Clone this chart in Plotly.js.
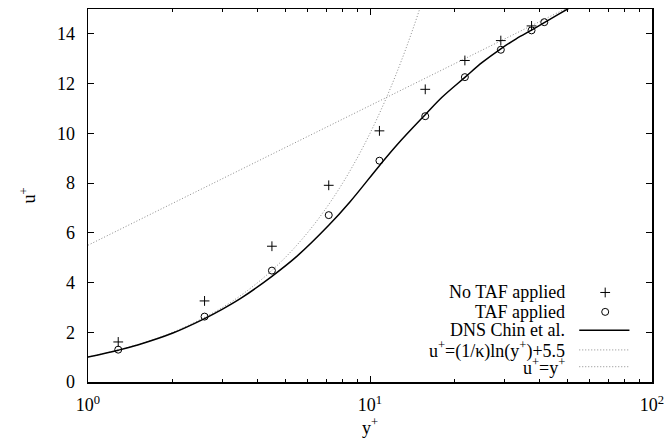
<!DOCTYPE html>
<html><head><meta charset="utf-8">
<script src="https://cdn.plot.ly/plotly-3.0.1.min.js"></script>
<style>
body{margin:0;background:#fff}
#plot{width:665px;height:440px}
#plot text{font-family:"Liberation Serif","Times New Roman",serif !important;}
</style>
</head><body><div id="plot"></div>
<script>
// No TAF applied (+)
const noTafX = [1.28, 2.59, 4.49, 7.14, 10.8, 15.7, 21.7, 29.1, 37.4];
const noTafY = [1.61, 3.26, 5.46, 7.91, 10.10, 11.77, 12.93, 13.73, 14.32];
// TAF applied (o)
const tafX = [1.28, 2.59, 4.49, 7.14, 10.8, 15.7, 21.7, 29.1, 37.4, 41.5];
const tafY = [1.30, 2.63, 4.48, 6.71, 8.90, 10.69, 12.26, 13.36, 14.14, 14.47];
// DNS Chin et al.
const dnsX = [1.0, 1.28, 1.5, 2.0, 2.59, 3.0, 3.5, 4.49, 5.5, 7.14, 8.5, 10.8, 12.5, 15.7, 18.0, 21.7, 25.0, 29.1, 33.0, 37.4, 41.5, 50.2, 60.0];
const dnsY = [1.0, 1.28, 1.49, 1.97, 2.55, 2.93, 3.38, 4.25, 5.05, 6.30, 7.25, 8.70, 9.55, 10.75, 11.45, 12.25, 12.85, 13.40, 13.80, 14.15, 14.45, 15.0, 15.5];
// log law u+=(1/k)ln(y+)+5.5, straight in log-x
const logLawX = [1, 100];
const logLawY = [5.5, 16.73];
// viscous sublayer u+=y+
const linX = [1, 1.5, 2, 3, 4, 5, 6, 7, 8, 9, 10, 11, 12, 13, 14, 15, 16];
const linY = [1, 1.5, 2, 3, 4, 5, 6, 7, 8, 9, 10, 11, 12, 13, 14, 15, 16];

const xTickVals = [1, 10, 100];
const xTickText = ['10<sup>0</sup>', '10<sup>1</sup>', '10<sup>2</sup>'];
const xMinorVals = [2,3,4,5,6,7,8,9,20,30,40,50,60,70,80,90];
const legendNames = ['No TAF applied', 'TAF applied', 'DNS Chin et al.', 'u<sup>+</sup>=(1/κ)ln(y<sup>+</sup>)+5.5', 'u<sup>+</sup>=y<sup>+</sup>'];

const FONT = 'Liberation Serif';
const grey = '#8a8a8a';
const DOT = '1px,2px';

const traces = [
  {x: logLawX, y: logLawY, mode: 'lines', line: {color: grey, width: 1, dash: DOT}},
  {x: linX, y: linY, mode: 'lines', line: {color: grey, width: 1, dash: DOT, shape: 'spline'}},
  {x: dnsX, y: dnsY, mode: 'lines', line: {color: 'black', width: 1.5, shape: 'spline'}},
  {x: noTafX, y: noTafY, mode: 'markers', marker: {symbol: 'cross-thin-open', size: 7, color: 'black', line: {color: 'black', width: 1}}},
  {x: tafX, y: tafY, mode: 'markers', marker: {symbol: 'circle-open', size: 7, color: 'black', line: {color: 'black', width: 1}}},
  {x: [0.917], y: [0.240], xaxis: 'x2', yaxis: 'y2', mode: 'markers', marker: {symbol: 'cross-thin-open', size: 7, color: 'black', line: {color: 'black', width: 1}}},
  {x: [0.917], y: [0.188], xaxis: 'x2', yaxis: 'y2', mode: 'markers', marker: {symbol: 'circle-open', size: 7, color: 'black', line: {color: 'black', width: 1}}},
  {x: [0.871, 0.960], y: [0.139, 0.139], xaxis: 'x2', yaxis: 'y2', mode: 'lines', line: {color: 'black', width: 1.5}},
  {x: [0.871, 0.960], y: [0.086, 0.086], xaxis: 'x2', yaxis: 'y2', mode: 'lines', line: {color: grey, width: 1, dash: DOT}},
  {x: [0.871, 0.960], y: [0.041, 0.041], xaxis: 'x2', yaxis: 'y2', mode: 'lines', line: {color: grey, width: 1, dash: DOT}}
];
const legendY = [0.240, 0.188, 0.139, 0.086, 0.041];
const annotations = legendNames.map((t, i) => ({
  text: t, xref: 'paper', yref: 'paper', x: 0.849, y: legendY[i],
  xanchor: 'right', yanchor: 'middle', showarrow: false,
  font: {family: FONT, size: 18, color: 'black'}
}));

const layout = {
  width: 665, height: 440,
  margin: {l: 88, r: 13, t: 9, b: 58},
  paper_bgcolor: 'white', plot_bgcolor: 'white',
  showlegend: false,
  font: {family: FONT, size: 18, color: 'black'},
  xaxis: {
    type: 'log', range: [0, 2], tickmode: 'array', tickvals: xTickVals, ticktext: xTickText,
    ticks: 'inside', ticklen: 6, tickcolor: 'black', tickwidth: 1,
    showline: true, linecolor: 'black', linewidth: 1.5, mirror: 'ticks',
    showgrid: false, zeroline: false, ticklabelstandoff: 6,
    tickfont: {family: FONT, size: 18, color: 'black'},
    minor: {tickmode: 'array', tickvals: xMinorVals, ticks: 'inside', ticklen: 3, tickcolor: 'black', showgrid: false},
    title: {text: 'y<sup>+</sup>', font: {family: FONT, size: 18, color: 'black'}, standoff: 4}
  },
  yaxis: {
    range: [0, 15], dtick: 2, tick0: 0,
    ticks: 'inside', ticklen: 6, tickcolor: 'black', tickwidth: 1,
    showline: true, linecolor: 'black', linewidth: 1.5, mirror: 'ticks',
    showgrid: false, zeroline: false, ticklabelstandoff: 8,
    tickfont: {family: FONT, size: 18, color: 'black'},
    title: {text: 'u<sup>+</sup>', font: {family: FONT, size: 18, color: 'black'}, standoff: 16}
  },
  xaxis2: {overlaying: 'x', range: [0, 1], visible: false, fixedrange: true},
  yaxis2: {overlaying: 'y', range: [0, 1], visible: false, fixedrange: true},
  annotations: annotations
};
Plotly.newPlot('plot', traces, layout, {displayModeBar: false, staticPlot: true});
</script></body></html>
